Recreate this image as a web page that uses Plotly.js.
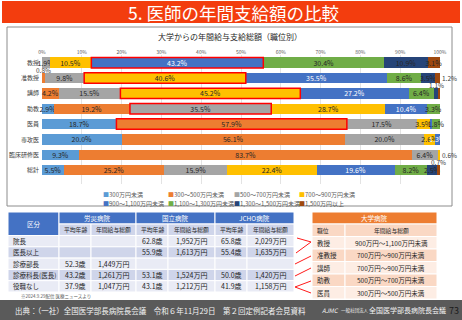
<!DOCTYPE html>
<html><head><meta charset="utf-8">
<script src="https://cdn.plot.ly/plotly-3.0.1.min.js"></script>
<style>html,body{margin:0;padding:0;background:#fff;}#chart{width:462px;height:320px;}</style>
</head><body><div id="chart"></div>
<script>
// ---------- data ----------
const categories = ['教授','准教授','講師','助教','医員','専攻医','臨床研修医','総計'];
const seriesNames = ['300万円未満','300～500万円未満','500～700万円未満','700～900万円未満',
  '900～1,100万円未満','1,100～1,300万円未満','1,300～1,500万円未満','1,500万円以上'];
const s300      = [0,    0,    0,    2.9,  18.7, 20.0, 9.3,  5.5];
const s300_500  = [0,    0.8,  4.2,  19.2, 57.9, 56.1, 83.7, 25.2];
const s500_700  = [1.9,  9.8,  15.5, 35.5, 17.5, 20.0, 6.4,  15.9];
const s700_900  = [10.5, 40.6, 45.2, 28.7, 3.5,  2.6,  0.6,  22.4];
const s900_1100 = [43.2, 35.5, 27.2, 10.4, 0.5,  1.3,  0,    19.6];
const s1100_1300= [30.4, 8.6,  6.4,  3.3,  1.8,  0,    0,    8.2];
const s1300_1500= [10.9, 3.5,  1.1,  0,    0.1,  0,    0,    2.5];
const s1500     = [3.1,  1.2,  0.4,  0,    0,    0,    0,    0.7];
const seriesData = [s300,s300_500,s500_700,s700_900,s900_1100,s1100_1300,s1300_1500,s1500];

// left table
const groupHeaders = ['労災病院','国立病院','JCHO病院'];
const subHeaders = ['平均年齢','年間給与総額'];
const rowLabels = ['院長','医長以上','診療部長','診療科長(医長)','役職なし'];
const rosaiAge = ['','','52.3歳','43.2歳','37.9歳'];
const rosaiPay = ['','','1,449万円','1,261万円','1,047万円'];
const kokuAge  = ['62.8歳','55.9歳','','53.1歳','43.1歳'];
const kokuPay  = ['1,952万円','1,613万円','','1,524万円','1,212万円'];
const jchoAge  = ['65.8歳','55.4歳','','50.0歳','41.9歳'];
const jchoPay  = ['2,029万円','1,635万円','','1,420万円','1,158万円'];

// right table (university hospitals)
const univPositions = ['教授','准教授','講師','助教','医員'];
const univPay = ['900万円～1,100万円未満','700万円～900万円未満','700万円～900万円未満','500万円～700万円未満','300万円～500万円未満'];
const univSeriesIndex = [4,3,3,2,1]; // salary band of each position in the chart

// ---------- style ----------
const W = 462, H = 320;
const px = x => x / W;
const py = y => 1 - y / H;
const FONT = "'Noto Sans CJK JP', 'Noto Sans', sans-serif";
const colors = ['#5B9BD5','#ED7D31','#A5A5A5','#FFC000','#4472C4','#70AD47','#264478','#9E480E'];
const textColors = ['#262626','#262626','#262626','#262626','#FFFFFF','#262626','#262626','#262626'];
const bargap = 0.32;

// labels drawn outside the bar (small segments)
const outsideLabels = [['准教授',1,'above'],['准教授',7,'right'],['講師',6,'above'],['講師',7,'right'],['臨床研修医',3,'right'],['総計',7,'above']];
const isOutside = (i, k) => outsideLabels.some(o => o[0] === categories[i] && o[1] === k);

// ---------- bars ----------
const traces = seriesData.map((vals, k) => ({
  type: 'bar', orientation: 'h', name: seriesNames[k],
  y: categories, x: vals,
  marker: {color: colors[k], line: {width: 0}},
  text: vals.map((v, i) => (v >= 1.2 && !isOutside(i, k)) ? v.toFixed(1) + '%' : ''),
  texttemplate: '%{text}',
  textposition: 'inside', insidetextanchor: 'middle', constraintext: 'none', textangle: 0,
  textfont: {family: FONT, size: 7, color: textColors[k]},
  hoverinfo: 'skip', showlegend: false, cliponaxis: false
}));

const cumStart = seriesData.map((_, k) => categories.map((_, i) => {
  let s = 0; for (let j = 0; j < k; j++) s += seriesData[j][i]; return s;
}));

const shapes = [];
const annotations = [];

// background frames
shapes.push(
  {type: 'rect', xref: 'paper', yref: 'paper', layer: 'below', x0: px(2), x1: px(460), y0: py(23), y1: py(1),
   fillcolor: '#F33D0E', line: {width: 0}},
  {type: 'rect', xref: 'paper', yref: 'paper', layer: 'below', x0: px(7), x1: px(452), y0: py(206), y1: py(27),
   fillcolor: '#FFFFFF', line: {color: '#8C8C8C', width: 1}},
  {type: 'rect', xref: 'paper', yref: 'paper', layer: 'below', x0: 0, x1: 1, y0: 0, y1: py(300),
   fillcolor: '#5A5A5A', line: {width: 0}}
);

// highlight boxes (from university table bands)
univPositions.forEach((p, r) => {
  const i = categories.indexOf(p), k = univSeriesIndex[r];
  shapes.push({type: 'rect', xref: 'x', yref: 'y', layer: 'above',
    x0: cumStart[k][i], x1: cumStart[k][i] + seriesData[k][i],
    y0: i - (1 - bargap) / 2, y1: i + (1 - bargap) / 2,
    line: {color: '#FF0000', width: 1.5}, fillcolor: 'rgba(0,0,0,0)'});
});

outsideLabels.forEach(([cat, k, pos]) => {
  const i = categories.indexOf(cat), v = seriesData[k][i];
  const a = {xref: 'x', yref: 'y', y: cat, text: v.toFixed(1) + '%', showarrow: false, borderpad: 0,
    font: {family: FONT, size: 6.5, color: '#404040'}};
  if (pos === 'above') { a.x = cumStart[k][i] + v / 2; a.yshift = 8; }
  else { a.x = cumStart[k][i] + v; a.xanchor = 'left'; a.xshift = 1; }
  annotations.push(a);
});

// red connector lines
const pathPx = pts => pts.map((p, j) => (j ? 'L' : 'M') + px(p[0]).toFixed(4) + ',' + py(p[1]).toFixed(4)).join(' ');
[
  [[297,238],[311,242],[296,253]],
  [[295,264],[311,256]],
  [[295,276],[311,268]],
  [[311,281],[295,287],[311,293]]
].forEach(pts => shapes.push({type: 'path', xref: 'paper', yref: 'paper', path: pathPx(pts),
  line: {color: '#FF1A1A', width: 1}}));

// titles
annotations.push(
  {xref: 'paper', yref: 'paper', x: px(234), y: py(12.5), yanchor: 'middle', text: '5. 医師の年間支給額の比較',
   showarrow: false, font: {family: FONT, size: 17.5, color: '#FFFFFF'}},
  {xref: 'paper', yref: 'paper', x: px(230), y: py(37), yanchor: 'middle', text: '大学からの年間給与支給総額（職位別）',
   showarrow: false, font: {family: FONT, size: 8, color: '#262626'}}
);

// legend
const legX = [101, 166, 232, 297], legY = [194, 203];
seriesNames.forEach((n, k) => annotations.push({xref: 'paper', yref: 'paper', xanchor: 'left', yanchor: 'middle',
  x: px(legX[k % 4]), y: py(legY[Math.floor(k / 4)]), showarrow: false,
  text: '<span style="color:' + colors[k] + '">■</span>' + n,
  font: {family: FONT, size: 6, color: '#595959'}}));

// ---------- tables (cells as shapes + text) ----------
function cell(x0, x1, y0, y1, fill, text, align, font) {
  shapes.push({type: 'rect', xref: 'paper', yref: 'paper', layer: 'below',
    x0: px(x0), x1: px(x1), y0: py(y1), y1: py(y0), fillcolor: fill, line: {color: '#FFFFFF', width: 1}});
  if (text) annotations.push({xref: 'paper', yref: 'paper', showarrow: false,
    x: align === 'left' ? px(x0 + 3) : px((x0 + x1) / 2), xanchor: align === 'left' ? 'left' : 'center',
    y: py((y0 + y1) / 2), yanchor: 'middle', text: text, font: font});
}
const blue = '#4472C4', band1 = '#CFD5EA', band2 = '#E9EBF5';
const hFont = {family: FONT, size: 6.5, color: '#FFFFFF'};
const shFont = {family: FONT, size: 5.8, color: '#262626'};
const dFont = {family: FONT, size: 7, color: '#262626'};
const lFont = {family: FONT, size: 6.5, color: '#262626'};

const lx = [8, 59, 91, 136, 168, 215, 247, 294];
const ly = [212, 224, 235.5, 246.8, 258.1, 269.4, 280.7, 292];
cell(lx[0], lx[1], ly[0], ly[2], blue, '区分', 'center', hFont);
groupHeaders.forEach((g, j) => cell(lx[1 + 2 * j], lx[3 + 2 * j], ly[0], ly[1], blue, g, 'center', hFont));
[0, 1, 2].forEach(j => subHeaders.forEach((s, m) => cell(lx[1 + 2 * j + m], lx[2 + 2 * j + m], ly[1], ly[2], band1, s, 'center', shFont)));
const leftCols = [rowLabels, rosaiAge, rosaiPay, kokuAge, kokuPay, jchoAge, jchoPay];
rowLabels.forEach((_, r) => {
  const fill = r % 2 === 0 ? band2 : band1;
  leftCols.forEach((col, c) => cell(lx[c], lx[c + 1], ly[2 + r], ly[3 + r], fill, col[r],
    c === 0 ? 'left' : 'center', c === 0 ? lFont : dFont));
});

const orange = '#ED7D31', ub1 = '#FAD8C4', ub2 = '#FDEDE4';
const rx = [312, 345, 437];
const ry = [212, 224, 236.5, 249, 261.5, 274, 286.5, 299];
cell(rx[0], rx[2], ry[0], ry[1], orange, '大学病院', 'center', {family: FONT, size: 6.5, color: '#FFFFFF'});
cell(rx[0], rx[1], ry[1], ry[2], ub1, '職位', 'left', shFont);
cell(rx[1], rx[2], ry[1], ry[2], ub1, '年間給与総額', 'center', shFont);
univPositions.forEach((p, r) => {
  const fill = r % 2 === 0 ? ub2 : ub1;
  cell(rx[0], rx[1], ry[2 + r], ry[3 + r], fill, p, 'left', lFont);
  cell(rx[1], rx[2], ry[2 + r], ry[3 + r], fill, univPay[r], 'center', lFont);
});

// footnote & footer
annotations.push(
  {xref: 'paper', yref: 'paper', xanchor: 'left', yanchor: 'middle', x: px(19), y: py(296.5), text: '※2024.9.29配信 医療ニュースより',
   showarrow: false, font: {family: FONT, size: 4.5, color: '#595959'}},
  {xref: 'paper', yref: 'paper', xanchor: 'left', yanchor: 'middle', x: px(13), y: py(310),
   text: '出典：（一社）全国医学部長病院長会議　令和６年11月29日　第２回定例記者会見資料',
   showarrow: false, font: {family: FONT, size: 7.5, color: '#F2F2F2'}},
  {xref: 'paper', yref: 'paper', xanchor: 'left', yanchor: 'middle', x: px(320), y: py(310), text: '<i>AJMC</i>',
   showarrow: false, font: {family: FONT, size: 6, color: '#F2F2F2'}},
  {xref: 'paper', yref: 'paper', xanchor: 'left', yanchor: 'middle', x: px(339), y: py(310), text: '一般社団法人',
   showarrow: false, font: {family: FONT, size: 4.5, color: '#F2F2F2'}},
  {xref: 'paper', yref: 'paper', xanchor: 'left', yanchor: 'middle', x: px(367), y: py(310), text: '全国医学部長病院長会議',
   showarrow: false, font: {family: FONT, size: 7, color: '#F2F2F2'}},
  {xref: 'paper', yref: 'paper', xanchor: 'right', yanchor: 'middle', x: px(461), y: py(310), text: '73',
   showarrow: false, font: {family: FONT, size: 9, color: '#1A1A1A'}}
);

const layout = {
  width: W, height: H, margin: {l: 0, r: 0, t: 0, b: 0},
  paper_bgcolor: '#FFFFFF', plot_bgcolor: 'rgba(0,0,0,0)',
  font: {family: FONT},
  barmode: 'stack', bargap: bargap, hovermode: false, showlegend: false,
  xaxis: {domain: [px(42), px(440)], range: [0, 100], dtick: 10, ticksuffix: '%', side: 'top',
    showgrid: true, gridcolor: '#E3E3E3', gridwidth: 1, zeroline: false, showline: false,
    ticks: '', ticklabelstandoff: -1, tickfont: {family: FONT, size: 5, color: '#595959'}, fixedrange: true},
  yaxis: {domain: [py(184.1), py(55)], type: 'category', autorange: 'reversed',
    showgrid: false, zeroline: false, showline: false, ticks: '', ticklabelstandoff: 2,
    tickfont: {family: FONT, size: 6, color: '#404040'}, fixedrange: true},
  shapes: shapes, annotations: annotations
};

Plotly.newPlot('chart', traces, layout, {displayModeBar: false, staticPlot: true});
</script></body></html>
